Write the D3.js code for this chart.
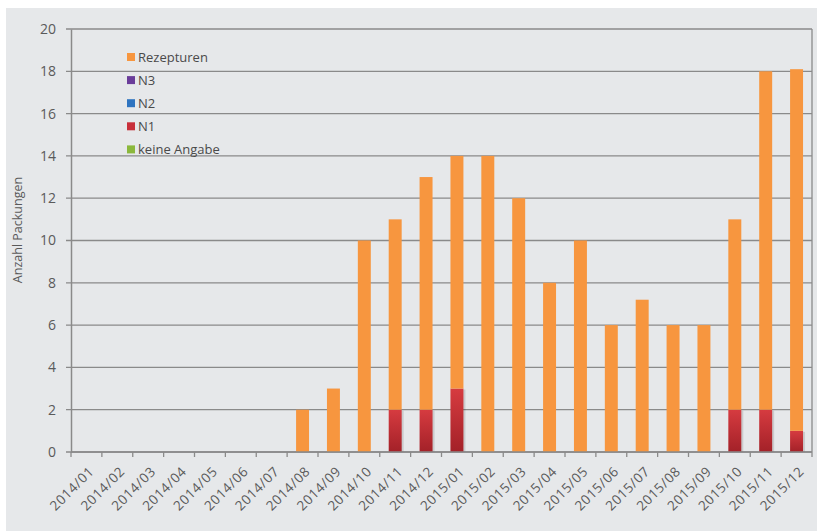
<!DOCTYPE html>
<html><head><meta charset="utf-8">
<script src="https://cdn.jsdelivr.net/npm/d3@7"></script>
<style>body{margin:0;background:#fff}svg{display:block}</style>
</head><body>
<svg id="c" width="817" height="531"></svg>
<script>
const categories = ["2014/01","2014/02","2014/03","2014/04","2014/05","2014/06","2014/07","2014/08","2014/09","2014/10","2014/11","2014/12","2015/01","2015/02","2015/03","2015/04","2015/05","2015/06","2015/07","2015/08","2015/09","2015/10","2015/11","2015/12"];
const keineAngabe = [0,0,0,0,0,0,0,0,0,0,0,0,0,0,0,0,0,0,0,0,0,0,0,0];
const n1 = [0,0,0,0,0,0,0,0,0,0,2,2,3,0,0,0,0,0,0,0,0,2,2,1];
const n2 = [0,0,0,0,0,0,0,0,0,0,0,0,0,0,0,0,0,0,0,0,0,0,0,0];
const n3 = [0,0,0,0,0,0,0,0,0,0,0,0,0,0,0,0,0,0,0,0,0,0,0,0];
const rezepturen = [0,0,0,0,0,0,0,2,3,10,9,11,11,14,12,8,10,6,7.2,6,6,9,16,17.1];
const seriesNames = ["keine Angabe","N1","N2","N3","Rezepturen"];
const seriesColors = ["#8bb83c","url(#gN1)","#2f74c0","#6a3d9a","#f7963f"];
const legendColors = {"Rezepturen":"#f7963f","N3":"#6a3d9a","N2":"#2f74c0","N1":"#c8303a","keine Angabe":"#8bb83c"};
const yTicks = [0,2,4,6,8,10,12,14,16,18,20];

const svg = d3.select("#c");
const defs = svg.append("defs");
const g1 = defs.append("linearGradient").attr("id","gN1").attr("x1",0).attr("y1",0).attr("x2",0).attr("y2",1);
g1.append("stop").attr("offset","0%").attr("stop-color","#d63b40");
g1.append("stop").attr("offset","100%").attr("stop-color","#a32128");

svg.append("rect").attr("x",6).attr("y",8).attr("width",811).attr("height",523).attr("fill","#e6e8ea");

const m = {l:71, r:812, t:29, b:452};
const x = d3.scaleBand().domain(categories).range([m.l,m.r]).paddingInner(0.58).paddingOuter(0.29);
const xb = d3.scaleBand().domain(categories).range([m.l,m.r]);
const y = d3.scaleLinear().domain([0,20]).range([m.b,m.t]);

// grid
svg.append("g").selectAll("line").data(yTicks).join("line")
  .attr("x1",m.l-5).attr("x2",m.r).attr("y1",d=>y(d)).attr("y2",d=>y(d))
  .attr("stroke","#8a8a8a").attr("stroke-width",1.3);
svg.append("line").attr("x1",m.r).attr("x2",m.r).attr("y1",m.t).attr("y2",m.b).attr("stroke","#8a8a8a").attr("stroke-width",1.3);

// stacked bars
const table = categories.map((c,i)=>({cat:c,"keine Angabe":keineAngabe[i],"N1":n1[i],"N2":n2[i],"N3":n3[i],"Rezepturen":rezepturen[i]}));
const stack = d3.stack().keys(seriesNames)(table);
stack.forEach((s,si)=>{
  if(seriesNames[si]==="N1"){
    svg.append("g").selectAll("rect").data(s.filter(d=>d[1]-d[0]>0)).join("rect")
      .attr("x",d=>x(d.data.cat)+2).attr("width",x.bandwidth())
      .attr("y",d=>y(d[1])+1).attr("height",d=>y(d[0])-y(d[1])-1)
      .attr("fill","#000").attr("opacity",0.12);
  }
  svg.append("g").selectAll("rect").data(s.filter(d=>d[1]-d[0]>0)).join("rect")
    .attr("x",d=>x(d.data.cat)).attr("width",x.bandwidth())
    .attr("y",d=>y(d[1])).attr("height",d=>y(d[0])-y(d[1]))
    .attr("fill",seriesColors[si]);
});

// axes
const yAxis = d3.axisLeft(y).tickValues(yTicks).tickSize(0).tickPadding(15);
const ya = svg.append("g").attr("transform",`translate(${m.l},0)`).call(yAxis);
ya.select(".domain").attr("stroke","#8a8a8a").attr("stroke-width",1.5);
ya.selectAll("text").attr("font-family","Open Sans").attr("font-size",14).attr("fill","#5a5a5a");

const xa = svg.append("g").attr("transform",`translate(0,${m.b})`);
xa.append("line").attr("x1",m.l).attr("x2",m.r).attr("stroke","#8a8a8a").attr("stroke-width",1.5);
xa.selectAll("line.t").data(categories.concat(["end"])).join("line").attr("class","t")
  .attr("x1",(d,i)=>m.l+i*xb.step()).attr("x2",(d,i)=>m.l+i*xb.step())
  .attr("y1",0).attr("y2",5).attr("stroke","#8a8a8a").attr("stroke-width",1.3);
xa.selectAll("text").data(categories).join("text")
  .attr("transform",d=>`translate(${xb(d)+xb.bandwidth()/2+5},${17}) rotate(-45)`)
  .attr("text-anchor","end").attr("dy","0.35em")
  .attr("font-family","Open Sans").attr("font-size",13.5).attr("letter-spacing","0.6px").attr("fill","#5a5a5a")
  .text(d=>d);

// y label
svg.append("text").attr("transform","translate(22,230) rotate(-90)").attr("text-anchor","middle")
  .attr("font-family","Open Sans").attr("font-size",12.5).attr("fill","#5a5a5a").text("Anzahl Packungen");

// legend
const legOrder = ["Rezepturen","N3","N2","N1","keine Angabe"];
const lg = svg.append("g").selectAll("g").data(legOrder).join("g")
  .attr("transform",(d,i)=>`translate(127,${57+i*23.1})`);
lg.append("rect").attr("x",0).attr("y",-4).attr("width",8).attr("height",8).attr("fill",d=>legendColors[d]);
lg.append("text").attr("x",11).attr("y",0).attr("dy","0.35em")
  .attr("font-family","Open Sans").attr("font-size",13).attr("fill","#4a4a4a").text(d=>d);
</script>
</body></html>
